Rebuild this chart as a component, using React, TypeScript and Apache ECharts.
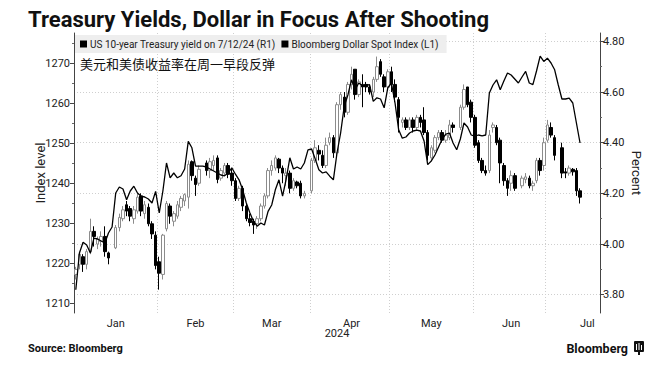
import React, { useEffect, useRef } from 'react';
import * as echarts from 'echarts';

const chartTitle = 'Treasury Yields, Dollar in Focus After Shooting';
const subtitle = '美元和美债收益率在周一早段反弹';
const yieldName = 'US 10-year Treasury yield on 7/12/24 (R1)';
const dollarName = 'Bloomberg Dollar Spot Index (L1)';
const yearLabel = '2024';
const sourceText = 'Source: Bloomberg';
const monthNames = ['Jan', 'Feb', 'Mar', 'Apr', 'May', 'Jun', 'Jul'];
const leftTicks = [1210, 1220, 1230, 1240, 1250, 1260, 1270];
const leftMinorTicks = [1215, 1225, 1235, 1245, 1255, 1265, 1275];
const rightTicks = [3.8, 4.0, 4.2, 4.4, 4.6, 4.8];
const rightMinorTicks = [3.9, 4.1, 4.3, 4.5, 4.7];

type OHLC = [number, number, number, number] | null; // open, close, low, high

const yieldJan: OHLC[] = [
  [3.88, 3.9, 3.86, 3.91], [3.92, 3.96, 3.9, 3.97], [3.95, 3.92, 3.89, 3.96], [3.92, 3.97, 3.9, 3.98],
  [3.97, 4.05, 3.96, 4.1], [4.05, 4.03, 3.99, 4.07], [4.0, 4.02, 3.98, 4.03], [4.01, 4.03, 3.99, 4.05],
  [4.03, 3.97, 3.95, 4.07], [3.965, 3.945, 3.92, 3.97], null, [3.985, 4.065, 3.98, 4.075],
  [4.065, 4.105, 4.05, 4.12], [4.1, 4.135, 4.09, 4.15], [4.155, 4.13, 4.11, 4.17], [4.14, 4.11, 4.09, 4.15],
  [4.1, 4.135, 4.08, 4.15], [4.13, 4.185, 4.12, 4.2], [4.19, 4.13, 4.11, 4.2], [4.12, 4.155, 4.1, 4.17],
  [4.145, 4.08, 4.07, 4.16], [4.08, 4.04, 4.02, 4.09], [4.035, 3.915, 3.9, 4.05],
];
const yieldFeb: OHLC[] = [
  [3.93, 3.885, 3.82, 3.95], [3.88, 4.035, 3.86, 4.04], [4.06, 4.16, 4.05, 4.17], [4.15, 4.11, 4.08, 4.16],
  [4.09, 4.12, 4.07, 4.13], [4.11, 4.155, 4.1, 4.17], [4.145, 4.18, 4.13, 4.19], [4.17, 4.195, 4.15, 4.2],
  [4.185, 4.315, 4.14, 4.33], [4.325, 4.27, 4.25, 4.33], [4.26, 4.235, 4.19, 4.27], [4.24, 4.295, 4.23, 4.31],
  null, [4.32, 4.29, 4.27, 4.33], [4.29, 4.325, 4.26, 4.34], [4.31, 4.33, 4.29, 4.35],
  [4.34, 4.255, 4.24, 4.35], [4.26, 4.29, 4.25, 4.3], [4.28, 4.31, 4.27, 4.32], [4.31, 4.275, 4.26, 4.32],
  [4.28, 4.25, 4.23, 4.3],
];
const yieldMar: OHLC[] = [
  [4.25, 4.18, 4.17, 4.26], [4.18, 4.22, 4.17, 4.23], [4.22, 4.15, 4.13, 4.23], [4.15, 4.1, 4.09, 4.16],
  [4.1, 4.085, 4.07, 4.12], [4.09, 4.075, 4.04, 4.1], [4.08, 4.1, 4.06, 4.11], [4.1, 4.15, 4.09, 4.16],
  [4.15, 4.19, 4.14, 4.2], [4.19, 4.29, 4.18, 4.3], [4.29, 4.31, 4.27, 4.33], [4.3, 4.34, 4.29, 4.35],
  [4.335, 4.3, 4.28, 4.34], [4.3, 4.28, 4.24, 4.31], [4.27, 4.28, 4.23, 4.3], [4.28, 4.22, 4.2, 4.29],
  [4.22, 4.25, 4.21, 4.26], [4.245, 4.23, 4.22, 4.25], [4.24, 4.19, 4.18, 4.25], [4.19, 4.2, 4.18, 4.21],
  null,
];
const yieldApr: OHLC[] = [
  [4.21, 4.33, 4.2, 4.34], [4.33, 4.38, 4.32, 4.41], [4.37, 4.355, 4.33, 4.39], [4.35, 4.31, 4.3, 4.37],
  [4.31, 4.39, 4.3, 4.42], [4.4, 4.42, 4.39, 4.44], [4.42, 4.36, 4.34, 4.43], [4.36, 4.55, 4.35, 4.56],
  [4.55, 4.59, 4.53, 4.6], [4.58, 4.52, 4.5, 4.6], [4.52, 4.63, 4.51, 4.64], [4.63, 4.67, 4.61, 4.7],
  [4.69, 4.59, 4.57, 4.69], [4.59, 4.64, 4.58, 4.65], [4.63, 4.62, 4.54, 4.67], [4.63, 4.62, 4.6, 4.64],
  [4.62, 4.6, 4.59, 4.63], [4.6, 4.65, 4.58, 4.66], [4.65, 4.7, 4.64, 4.74], [4.72, 4.67, 4.66, 4.73],
  [4.66, 4.62, 4.6, 4.67], [4.62, 4.68, 4.61, 4.69],
];
const yieldMay: OHLC[] = [
  [4.68, 4.63, 4.6, 4.7], [4.63, 4.58, 4.56, 4.65], [4.57, 4.5, 4.44, 4.58], [4.48, 4.49, 4.46, 4.5],
  [4.49, 4.46, 4.45, 4.5], [4.46, 4.49, 4.45, 4.5], [4.49, 4.46, 4.44, 4.5], [4.46, 4.5, 4.45, 4.51],
  [4.5, 4.48, 4.46, 4.51], [4.49, 4.44, 4.43, 4.54], [4.44, 4.35, 4.33, 4.45], [4.34, 4.38, 4.33, 4.39],
  [4.37, 4.42, 4.36, 4.43], [4.42, 4.44, 4.41, 4.45], [4.44, 4.41, 4.4, 4.45], [4.41, 4.43, 4.4, 4.45],
  [4.42, 4.47, 4.41, 4.49], [4.47, 4.46, 4.44, 4.48], null, [4.46, 4.54, 4.45, 4.55],
  [4.54, 4.61, 4.53, 4.63], [4.62, 4.55, 4.54, 4.62], [4.56, 4.5, 4.48, 4.57],
];
const yieldJun: OHLC[] = [
  [4.5, 4.39, 4.38, 4.51], [4.4, 4.33, 4.32, 4.41], [4.33, 4.29, 4.28, 4.34], [4.29, 4.28, 4.27, 4.31],
  [4.29, 4.43, 4.28, 4.45], [4.46, 4.47, 4.44, 4.48], [4.46, 4.4, 4.39, 4.47], [4.41, 4.32, 4.24, 4.42],
  [4.31, 4.25, 4.23, 4.32], [4.25, 4.22, 4.19, 4.26], [4.24, 4.27, 4.21, 4.29], [4.27, 4.22, 4.21, 4.28],
  null, [4.23, 4.26, 4.22, 4.27], [4.255, 4.265, 4.24, 4.28], [4.26, 4.23, 4.22, 4.27],
  [4.23, 4.24, 4.21, 4.25], [4.25, 4.33, 4.24, 4.34], [4.33, 4.29, 4.27, 4.34], [4.31, 4.4, 4.29, 4.42],
];
const yieldJul: OHLC[] = [
  [4.41, 4.47, 4.4, 4.49], [4.46, 4.43, 4.42, 4.48], [4.42, 4.35, 4.33, 4.43], null,
  [4.38, 4.28, 4.26, 4.4], [4.285, 4.28, 4.26, 4.3], [4.28, 4.3, 4.27, 4.31], [4.295, 4.285, 4.27, 4.3],
  [4.29, 4.21, 4.19, 4.3], [4.21, 4.185, 4.16, 4.22],
];

const dollarJan = [
  1213.3, 1222.5, 1225.2, 1224.5, 1222.5, 1226.2, 1226.0, 1225.5, 1225.0, 1227.5, 1229.0, 1237.5,
  1239.0, 1238.5, 1235.8, 1238.0, 1239.2, 1237.5, 1236.7, 1236.5, 1236.0, 1235.0, 1237.9,
];
const dollarFeb = [
  1232.5, 1238.0, 1245.0, 1241.3, 1242.5, 1241.3, 1241.8, 1243.5, 1250.4, 1248.8, 1244.2, 1244.2,
  1244.2, 1244.0, 1243.5, 1243.0, 1242.5, 1242.0, 1241.8, 1242.5, 1243.8,
];
const dollarMar = [
  1242.2, 1240.8, 1238.3, 1235.0, 1232.5, 1230.4, 1229.2, 1230.0, 1229.5, 1232.9, 1234.5, 1238.3,
  1240.8, 1236.7, 1241.0, 1246.3, 1243.5, 1244.0, 1243.5, 1245.0, 1248.3,
];
const dollarApr = [
  1248.5, 1246.0, 1243.3, 1242.5, 1242.8, 1241.7, 1240.8, 1247.5, 1252.5, 1259.2, 1262.0, 1265.8,
  1263.3, 1265.0, 1264.3, 1264.6, 1264.5, 1260.4, 1261.3, 1261.0, 1258.8, 1263.8,
];
const dollarMay = [
  1265.0, 1260.0, 1253.3, 1251.2, 1251.5, 1252.5, 1253.0, 1253.2, 1253.0, 1250.5, 1244.6, 1245.5,
  1247.0, 1249.0, 1251.0, 1252.2, 1252.5, 1250.0, 1248.3, 1251.0, 1255.0, 1254.0, 1252.0,
];
const dollarJun = [
  1251.7, 1252.0, 1251.8, 1252.0, 1262.5, 1264.5, 1265.8, 1263.3, 1265.5, 1267.5, 1267.0, 1266.0,
  1265.0, 1266.5, 1267.9, 1265.0, 1264.6, 1268.0, 1271.7, 1270.4,
];
const dollarJul = [1271.2, 1270.0, 1268.3, 1264.5, 1261.0, 1261.0, 1261.2, 1260.0, 1255.0, 1250.0];

const yieldData = [...yieldJan, ...yieldFeb, ...yieldMar, ...yieldApr, ...yieldMay, ...yieldJun, ...yieldJul];
const dollarData = [...dollarJan, ...dollarFeb, ...dollarMar, ...dollarApr, ...dollarMay, ...dollarJun, ...dollarJul];

function weekdays(startMs: number, endMs: number): string[] {
  const out: string[] = [];
  for (let t = startMs; t <= endMs; t += 86400000) {
    const d = new Date(t);
    const wd = d.getUTCDay();
    if (wd !== 0 && wd !== 6) out.push(d.toISOString().slice(0, 10));
  }
  return out;
}

// x-axis categories: every weekday from Jan 1 to Jul 19, 2024
const categories = weekdays(Date.UTC(2024, 0, 1), Date.UTC(2024, 6, 19));

const labelIdx = new Map<number, string>();
const splitIdx = new Set<number>();
monthNames.forEach((name, m) => {
  const first = categories.findIndex((c) => Number(c.slice(5, 7)) === m + 1);
  if (first > 0) splitIdx.add(first);
  const nFull = weekdays(Date.UTC(2024, m, 1), Date.UTC(2024, m + 1, 0)).length;
  labelIdx.set(first + Math.round((nFull - 1) / 2), name);
});

const AXIS_FONT = 'Roboto, "Noto Sans", "DejaVu Sans", sans-serif';

export default function App() {
  const ref = useRef<HTMLDivElement>(null);

  useEffect(() => {
    if (!ref.current) return;
    const chart = echarts.init(ref.current, null, { renderer: 'svg' });
    const option: any = {
      animation: false,
      backgroundColor: '#ffffff',
      textStyle: { fontFamily: AXIS_FONT },
      legend: {
        left: 75,
        top: 35,
        backgroundColor: '#eeeeee',
        padding: [4, 8, 4, 5],
        itemGap: 6,
        itemWidth: 7,
        itemHeight: 7,
        selectedMode: false,
        textStyle: { fontSize: 10, color: '#222', fontFamily: AXIS_FONT, padding: [0, 0, 0, -2] },
        data: [
          { name: yieldName, icon: 'rect', itemStyle: { color: '#000', borderWidth: 0 } },
          { name: dollarName, icon: 'rect', itemStyle: { color: '#000', borderWidth: 0 } },
        ],
      },
      grid: { left: 74, right: 69, top: 33, bottom: 59, containLabel: false, outerBoundsMode: 'none' },
      xAxis: {
        type: 'category',
        data: categories,
        boundaryGap: true,
        axisLine: { show: false },
        axisTick: { show: false },
        axisLabel: {
          interval: (i: number) => labelIdx.has(i),
          formatter: (_v: string, i: number) => labelIdx.get(i) || '',
          fontSize: 11,
          color: '#222',
          margin: 5,
        },
        splitLine: {
          show: true,
          interval: (i: number) => splitIdx.has(i),
          lineStyle: { color: '#cfcfcf', type: [1, 2], width: 1 },
        },
        name: yearLabel,
        nameLocation: 'middle',
        nameGap: 15,
        nameMoveOverlap: false,
        nameTextStyle: { fontSize: 11, color: '#222' },
      },
      yAxis: [
        {
          type: 'value',
          position: 'left',
          min: 1207.5,
          max: 1277.5,
          axisLine: { show: true, lineStyle: { color: '#444', width: 1 } },
          axisTick: { show: true, customValues: leftTicks, length: 4, lineStyle: { color: '#444' } },
          axisLabel: {
            customValues: leftTicks,
            formatter: (v: number) => String(Math.round(v)),
            fontSize: 11,
            color: '#222',
            margin: 4,
          },
          splitLine: { show: false },
          name: 'Index level',
          nameLocation: 'middle',
          nameRotate: 90,
          nameGap: 27,
          nameMoveOverlap: false,
          nameTextStyle: { fontSize: 13, color: '#222' },
        },
        {
          type: 'value',
          position: 'left',
          min: 1207.5,
          max: 1277.5,
          axisLine: { show: false },
          axisTick: { show: true, customValues: leftMinorTicks, length: 2, lineStyle: { color: '#666' } },
          axisLabel: { show: false },
          splitLine: { show: false },
        },
        {
          type: 'value',
          position: 'right',
          min: 3.7278,
          max: 4.833,
          axisLine: { show: true, lineStyle: { color: '#444', width: 1 } },
          axisTick: { show: true, customValues: rightTicks, length: 4, lineStyle: { color: '#444' } },
          axisLabel: {
            customValues: rightTicks,
            formatter: (v: number) => v.toFixed(2),
            fontSize: 11,
            color: '#222',
            margin: 3,
          },
          splitLine: { show: true, lineStyle: { color: '#cfcfcf', type: [1, 2], width: 1 } },
          name: 'Percent',
          nameLocation: 'middle',
          nameRotate: -90,
          nameGap: 30,
          nameMoveOverlap: false,
          nameTextStyle: { fontSize: 13, color: '#222' },
        },
        {
          type: 'value',
          position: 'right',
          min: 3.7278,
          max: 4.833,
          axisLine: { show: false },
          axisTick: { show: true, customValues: rightMinorTicks, length: 2, lineStyle: { color: '#666' } },
          axisLabel: { show: false },
          splitLine: { show: false },
        },
      ],
      series: [
        {
          type: 'candlestick',
          name: yieldName,
          yAxisIndex: 2,
          barWidth: 3,
          data: yieldData.map((d) => (d ? d : '-')),
          itemStyle: {
            color: '#ffffff',
            color0: '#000000',
            borderColor: '#8c8c8c',
            borderColor0: '#000000',
            borderWidth: 1,
          },
          z: 2,
        },
        {
          type: 'line',
          name: dollarName,
          yAxisIndex: 0,
          data: dollarData,
          symbol: 'none',
          lineStyle: { color: '#000', width: 1.3 },
          itemStyle: { color: '#000' },
          z: 3,
        },
      ],
      graphic: [
        {
          type: 'text',
          x: 28,
          y: 19,
          style: {
            text: chartTitle,
            font: 'bold 22px Roboto, "Liberation Sans", sans-serif',
            fill: '#111',
            verticalAlign: 'middle',
          },
        },
        {
          type: 'text',
          x: 80,
          y: 63,
          style: {
            text: subtitle,
            font: '13px "Noto Sans CJK SC", sans-serif',
            fill: '#111',
            verticalAlign: 'middle',
          },
        },
        {
          type: 'text',
          x: 28,
          y: 348,
          style: {
            text: sourceText,
            font: 'bold 11px Roboto, "Liberation Sans", sans-serif',
            fill: '#111',
            verticalAlign: 'middle',
          },
        },
        {
          type: 'text',
          x: 628,
          y: 348,
          style: {
            text: 'Bloomberg',
            font: 'bold 12.5px Roboto, "Liberation Sans", sans-serif',
            fill: '#111',
            align: 'right',
            verticalAlign: 'middle',
          },
        },
        {
          type: 'group',
          x: 634,
          y: 341,
          children: [
            { type: 'rect', shape: { x: 0, y: 0, width: 10, height: 11, r: 1 }, style: { fill: '#111' } },
            { type: 'rect', shape: { x: 4, y: 11, width: 2, height: 3 }, style: { fill: '#111' } },
            { type: 'rect', shape: { x: 2, y: 3, width: 1, height: 6 }, style: { fill: '#fff' } },
            { type: 'rect', shape: { x: 4.5, y: 2, width: 1, height: 7 }, style: { fill: '#fff' } },
            { type: 'rect', shape: { x: 7, y: 4, width: 1, height: 5 }, style: { fill: '#fff' } },
          ],
        },
      ],
    };
    chart.setOption(option);
    return () => chart.dispose();
  }, []);

  return (
    <div
      ref={ref}
      style={{ position: 'fixed', left: 0, top: 0, width: 669, height: 372, background: '#fff' }}
    />
  );
}
